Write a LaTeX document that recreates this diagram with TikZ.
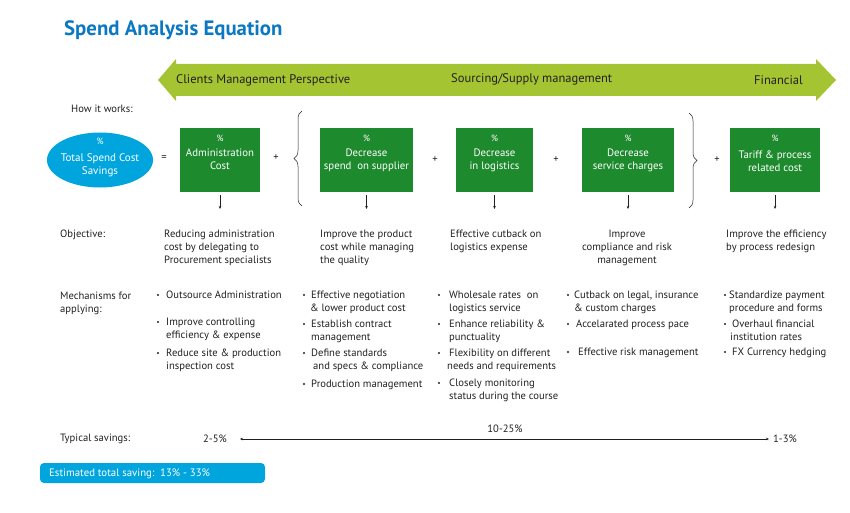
\documentclass[tikz,border=0pt]{standalone}
\usepackage{fontspec}
\setmainfont{PT Sans}
\usetikzlibrary{shapes.geometric,decorations.pathreplacing,arrows.meta}
\definecolor{titleblue}{HTML}{0A78C2}
\definecolor{ellblue}{HTML}{00A5DE}
\definecolor{boxgreen}{HTML}{1E8A2E}
\definecolor{arrgreen}{HTML}{A5C432}
\definecolor{txtgray}{HTML}{231F20}
\newcommand\mitem[5]{\fill[txtgray] (#2,#4) circle (1.1pt); \node[txt,anchor=north west] (#1) at (#3,#4-3.8) {#5};}
\begin{document}
\begin{tikzpicture}[x=1pt,y=-1pt,
  txt/.style={font=\fontsize{10.6}{13}\selectfont, text=txtgray, inner sep=0pt, align=left},
  gbox/.style={fill=boxgreen, minimum width=#1, minimum height=64pt, inner sep=0pt},
  gtxt/.style={font=\fontsize{10.8}{13}\selectfont, text=white, align=center, inner sep=0pt},
  pct/.style={font=\fontsize{9}{10}\selectfont, text=white, inner sep=0pt},
  opsym/.style={font=\fontsize{10.5}{12}\selectfont, text=txtgray, inner sep=0pt},
  darr/.style={-{Stealth[length=3pt,width=2.5pt]}, txtgray, line width=0.4pt},
  brc/.style={decorate, decoration={brace, amplitude=8pt}, txtgray, line width=0.5pt},
  ptxt/.style={font=\fontsize{12.5}{14}\selectfont, text=txtgray, anchor=west, inner sep=0pt}]
\useasboundingbox (0,0) rectangle (850,513);

% title
\node[font=\fontsize{20.8}{24}\selectfont\bfseries, text=titleblue, anchor=west, inner sep=0pt] (title) at (64,30.5) {Spend Analysis Equation};

% green arrow
\fill[arrgreen] (158,80) -- (176,59) -- (176,64) -- (816,64) -- (816,59) -- (836,80) -- (816,101) -- (816,96) -- (176,96) -- (176,101) -- cycle;
\node[ptxt] (p1) at (176,80) {Clients Management Perspective};
\node[ptxt] (p2) at (451,79) {Sourcing/Supply management};
\node[ptxt] (p3) at (754,80) {Financial};

\node[txt, anchor=west] (how) at (71,109) {How it works:};

% ellipse
\node[ellipse, fill=ellblue, minimum width=106pt, minimum height=55pt, inner sep=0pt] (ell) at (100,160) {};
\node[pct] (ellp) at (100,141) {\%};
\node[gtxt, font=\fontsize{11}{13}\selectfont] (ellt) at (100,165) {Total Spend Cost\\Savings};

\node[opsym] (eq) at (164,158) {=};

% boxes
\node[gbox=80pt] (b1) at (220,160) {};
\node[gbox=93pt] (b2) at (366.5,160) {};
\node[gbox=77pt] (b3) at (494.5,160) {};
\node[gbox=92pt] (b4) at (628,160) {};
\node[gbox=90pt] (b5) at (775,160) {};
\foreach \n/\x in {b1/220,b2/366.5,b3/494.5,b4/628,b5/775}{\node[pct] (\n p) at (\x,138.5) {\%};}
\node[gtxt] (b1t) at (220,159.5) {Administration\\Cost};
\node[gtxt] (b2t) at (366.5,160.5) {Decrease\\spend\ \ on supplier};
\node[gtxt] (b3t) at (494.5,160.5) {Decrease\\in logistics};
\node[gtxt] (b4t) at (628,160.5) {Decrease\\service charges};
\node[gtxt] (b5t) at (775,161.5) {Tariff \& process\\related cost};

\node[opsym] (pl1) at (276,158) {+};
\node[opsym] (pl2) at (435,160) {+};
\node[opsym] (pl3) at (556,160) {+};
\node[opsym] (pl4) at (717,160) {+};

\draw[brc] (302,206) -- (302,111);
\draw[brc] (689,113) -- (689,208);

\foreach \n/\x in {b1/220,b2/366.5,b3/494.5,b4/628,b5/775}{
  \coordinate (\n d) at (\x,209);
  \draw[darr] ([yshift=-3pt]\n.south) -- (\n d);
}

% objective
\node[txt, anchor=north west] (objl) at (60,229.5) {Objective:};
\node[txt, anchor=north west] (o1) at (164,229.5) {Reducing administration\\cost by delegating to\\Procurement specialists};
\node[txt, anchor=north west] (o2) at (320,229.5) {Improve the product\\cost while managing\\the quality};
\node[txt, anchor=north west] (o3) at (450,229.5) {Effective cutback on\\logistics expense};
\node[txt, anchor=north, align=center] (o4) at (627,229.5) {Improve\\compliance and risk\\management};
\node[txt, anchor=north west] (o5) at (726,229.5) {Improve the efficiency\\by process redesign};

% mechanisms
\node[txt, anchor=north west] (ml) at (60,291.5) {Mechanisms for\\applying:};
\mitem{m11}{158}{166}{295}{Outsource Administration}
\mitem{m12}{158}{166}{322}{Improve controlling\\efficiency \& expense}
\mitem{m13}{158}{166}{353}{Reduce site \& production\\inspection cost}
\mitem{m21}{304}{311}{295}{Effective negotiation\\\hspace*{-1pt}\& lower product cost}
\mitem{m22}{304}{311}{324}{Establish contract\\management}
\mitem{m23}{304}{311}{353}{Define standards\\\hspace*{2pt}and specs \& compliance}
\mitem{m24}{304}{311}{384}{Production management}
\mitem{m31}{439}{449}{295}{Wholesale rates\ \ on\\logistics service}
\mitem{m32}{439}{449}{324}{Enhance reliability \&\\punctuality}
\mitem{m33}{439}{449}{353}{Flexibility on different\\\hspace*{-2pt}needs and requirements}
\mitem{m34}{439}{449}{383}{Closely monitoring\\status during the course}
\mitem{m41}{568}{574}{295}{Cutback on legal, insurance\\\& custom charges}
\mitem{m42}{568}{576}{324}{Accelarated process pace}
\mitem{m43}{568}{578}{352}{Effective risk management}
\mitem{m51}{725}{729}{295}{Standardize payment\\procedure and forms}
\mitem{m52}{725}{732}{324}{Overhaul financial\\\hspace*{-2pt}institution rates}
\mitem{m53}{725}{732}{352}{FX Currency hedging}

% typical savings
\node[txt, anchor=west] (tsl) at (60,439) {Typical savings:};
\node[txt, anchor=west] (s1) at (203,439) {2-5\%};
\node[txt, anchor=west] (s3) at (773,439) {1-3\%};
\node[txt] (s2) at (505,429) {10-25\%};
\draw[{Stealth[length=3pt,width=2.5pt]}-{Stealth[length=3pt,width=2.5pt]}, txtgray, line width=0.4pt, shorten <=13pt, shorten >=4pt] (s1.east) -- (s3.west);

% estimated
\node[fill=ellblue, rounded corners=4pt, minimum width=225pt, minimum height=20pt, inner sep=0pt] (est) at (152.5,473) {};
\node[font=\fontsize{10.8}{12}\selectfont, text=white, anchor=west, inner sep=0pt] (estt) at (49,473.5) {Estimated total saving:\ \ 13\% - 33\%};
\end{tikzpicture}
\end{document}
